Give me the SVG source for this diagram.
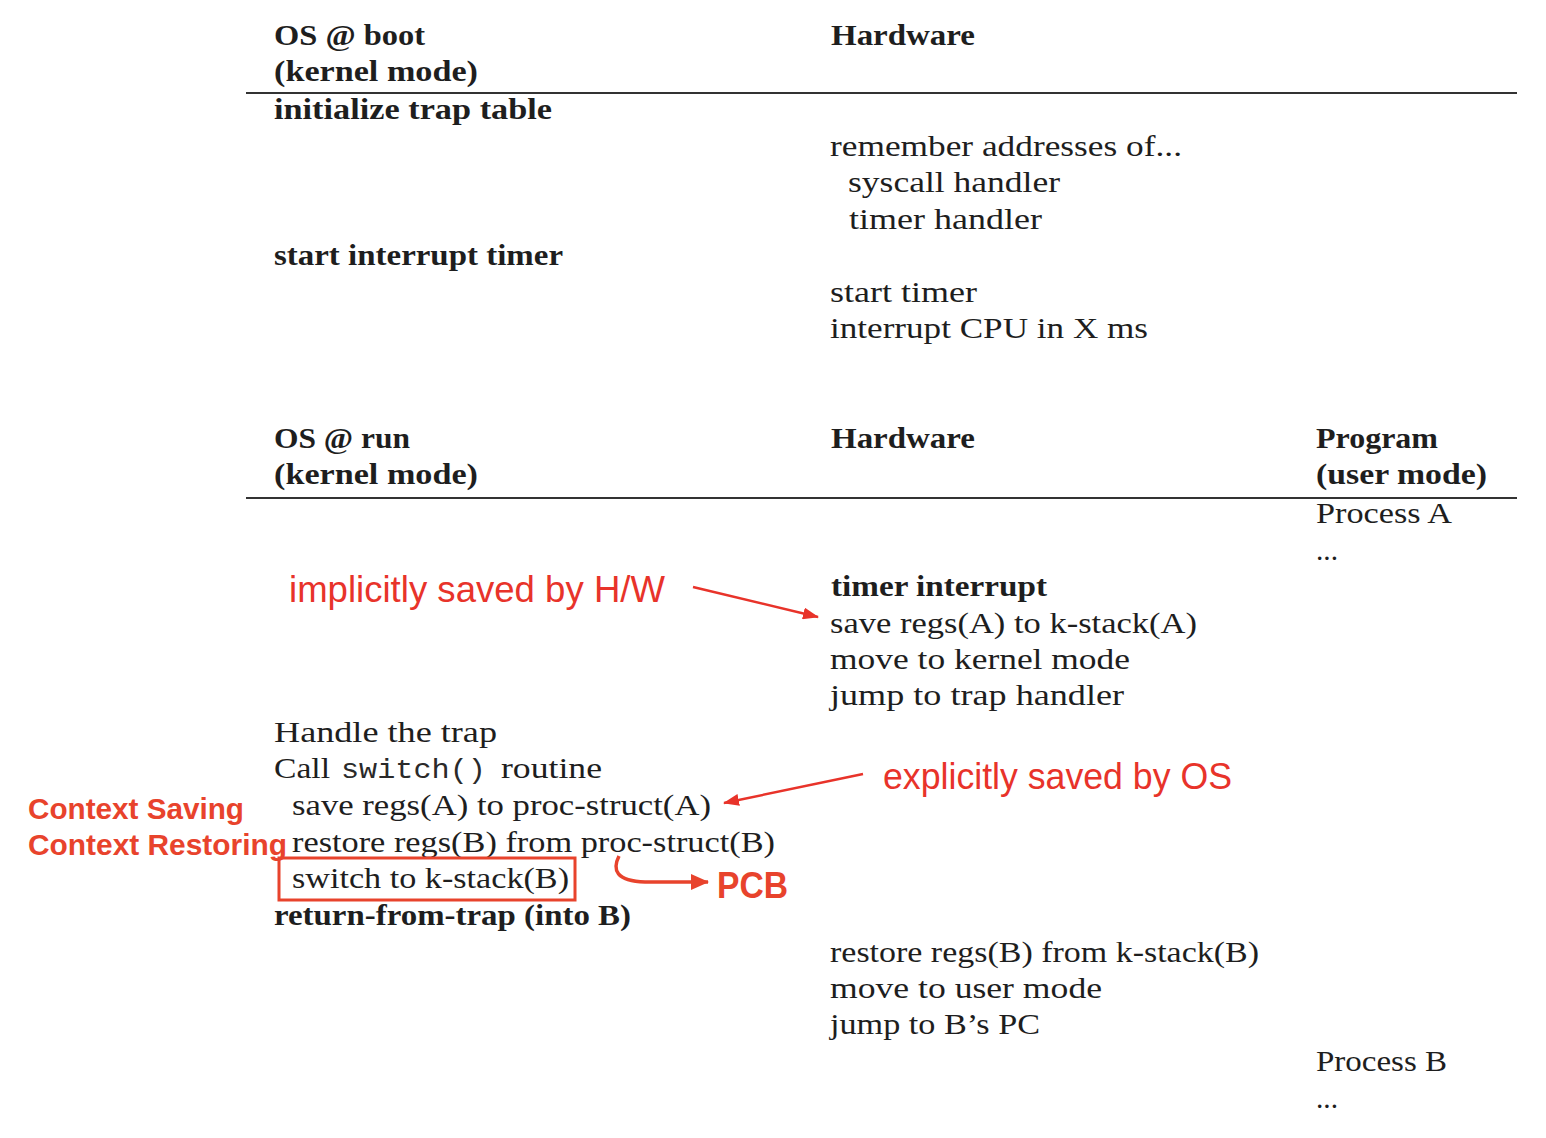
<svg xmlns="http://www.w3.org/2000/svg" width="1546" height="1138" viewBox="0 0 1546 1138">
<style>
.t{font-family:"Liberation Serif","Times New Roman",serif;font-size:30px;fill:#1e1e1e}
.b{font-weight:bold}
.m{font-family:"Liberation Mono","Courier New",monospace;font-size:27px;fill:#2a2a2a}
.r{font-family:"Liberation Sans",Arial,sans-serif;font-size:37px;fill:#e8332a}
.rb{font-family:"Liberation Sans",Arial,sans-serif;font-weight:bold;fill:#e8432c}
.rule{stroke:#333;stroke-width:2}
.arr{stroke:#e8332a;stroke-width:2.5;fill:none}
</style>
<defs>
<marker id="ah" viewBox="0 0 16 12" refX="15" refY="6" markerWidth="16" markerHeight="12" orient="auto" markerUnits="userSpaceOnUse">
<path d="M0,0 L16,6 L0,12 z" fill="#e8332a"/>
</marker>
<marker id="ah2" viewBox="0 0 18 16" refX="17" refY="8" markerWidth="18" markerHeight="16" orient="auto" markerUnits="userSpaceOnUse">
<path d="M0,0 L18,8 L0,16 z" fill="#e8432c"/>
</marker>
</defs>
<rect width="1546" height="1138" fill="#ffffff"/>

<g id="boot-table">
<text class="t b" x="274" y="45" textLength="151" lengthAdjust="spacingAndGlyphs">OS @ boot</text>
<text class="t b" x="274" y="81" textLength="204" lengthAdjust="spacingAndGlyphs">(kernel mode)</text>
<text class="t b" x="831" y="45" textLength="144" lengthAdjust="spacingAndGlyphs">Hardware</text>
<line class="rule" x1="246" y1="93" x2="1517" y2="93"/>
<text class="t b" x="274" y="119" textLength="278" lengthAdjust="spacingAndGlyphs">initialize trap table</text>
<text class="t" x="830" y="156" textLength="352" lengthAdjust="spacingAndGlyphs">remember addresses of...</text>
<text class="t" x="848" y="192" textLength="212" lengthAdjust="spacingAndGlyphs">syscall handler</text>
<text class="t" x="849" y="229" textLength="193" lengthAdjust="spacingAndGlyphs">timer handler</text>
<text class="t b" x="274" y="265" textLength="289" lengthAdjust="spacingAndGlyphs">start interrupt timer</text>
<text class="t" x="830" y="302" textLength="147" lengthAdjust="spacingAndGlyphs">start timer</text>
<text class="t" x="830" y="338" textLength="318" lengthAdjust="spacingAndGlyphs">interrupt CPU in X ms</text>
</g>

<g id="run-table">
<text class="t b" x="274" y="448" textLength="136" lengthAdjust="spacingAndGlyphs">OS @ run</text>
<text class="t b" x="274" y="484" textLength="204" lengthAdjust="spacingAndGlyphs">(kernel mode)</text>
<text class="t b" x="831" y="448" textLength="144" lengthAdjust="spacingAndGlyphs">Hardware</text>
<text class="t b" x="1316" y="448" textLength="122" lengthAdjust="spacingAndGlyphs">Program</text>
<text class="t b" x="1316" y="484" textLength="171" lengthAdjust="spacingAndGlyphs">(user mode)</text>
<line class="rule" x1="246" y1="498" x2="1517" y2="498"/>
<text class="t" x="1316" y="523" textLength="136" lengthAdjust="spacingAndGlyphs">Process A</text>
<text class="t" x="1316" y="560" textLength="22" lengthAdjust="spacingAndGlyphs">...</text>
<text class="t b" x="831" y="596" textLength="216" lengthAdjust="spacingAndGlyphs">timer interrupt</text>
<text class="t" x="830" y="633" textLength="367" lengthAdjust="spacingAndGlyphs">save regs(A) to k-stack(A)</text>
<text class="t" x="830" y="669" textLength="300" lengthAdjust="spacingAndGlyphs">move to kernel mode</text>
<text class="t" x="830" y="705" textLength="294" lengthAdjust="spacingAndGlyphs">jump to trap handler</text>
<text class="t" x="274" y="742" textLength="223" lengthAdjust="spacingAndGlyphs">Handle the trap</text>
<text class="t" x="274" y="778" textLength="56" lengthAdjust="spacingAndGlyphs">Call</text>
<text class="m" x="341" y="778" textLength="145" lengthAdjust="spacingAndGlyphs">switch()</text>
<text class="t" x="501" y="778" textLength="101" lengthAdjust="spacingAndGlyphs">routine</text>
<text class="t" x="292" y="815" textLength="419" lengthAdjust="spacingAndGlyphs">save regs(A) to proc-struct(A)</text>
<text class="t" x="292" y="852" textLength="483" lengthAdjust="spacingAndGlyphs">restore regs(B) from proc-struct(B)</text>
<text class="t" x="292" y="888" textLength="277" lengthAdjust="spacingAndGlyphs">switch to k-stack(B)</text>
<text class="t b" x="274" y="925" textLength="357" lengthAdjust="spacingAndGlyphs">return-from-trap (into B)</text>
<text class="t" x="830" y="962" textLength="429" lengthAdjust="spacingAndGlyphs">restore regs(B) from k-stack(B)</text>
<text class="t" x="830" y="998" textLength="272" lengthAdjust="spacingAndGlyphs">move to user mode</text>
<text class="t" x="830" y="1034" textLength="210" lengthAdjust="spacingAndGlyphs">jump to B’s PC</text>
<text class="t" x="1316" y="1071" textLength="131" lengthAdjust="spacingAndGlyphs">Process B</text>
<text class="t" x="1316" y="1108" textLength="22" lengthAdjust="spacingAndGlyphs">...</text>
</g>

<g id="annotations">
<text class="r" x="289" y="602" textLength="376" lengthAdjust="spacingAndGlyphs">implicitly saved by H/W</text>
<text class="r" x="883" y="789" textLength="349" lengthAdjust="spacingAndGlyphs">explicitly saved by OS</text>
<text class="rb" x="28" y="819" font-size="29" textLength="216" lengthAdjust="spacingAndGlyphs">Context Saving</text>
<text class="rb" x="28" y="855" font-size="29" textLength="259" lengthAdjust="spacingAndGlyphs">Context Restoring</text>
<rect x="279" y="858" width="296" height="42" fill="none" stroke="#e8432c" stroke-width="3"/>
<text class="rb" x="717" y="898" font-size="37" textLength="71" lengthAdjust="spacingAndGlyphs">PCB</text>
</g>

<g id="connectors">
<line class="arr" x1="693" y1="587" x2="818" y2="617" marker-end="url(#ah)"/>
<line class="arr" x1="863" y1="774" x2="724" y2="803" marker-end="url(#ah)"/>
<path d="M619,856 C612,870 616,881 645,882 L708,882" fill="none" stroke="#e8432c" stroke-width="3.5" marker-end="url(#ah2)"/>
</g>
</svg>
